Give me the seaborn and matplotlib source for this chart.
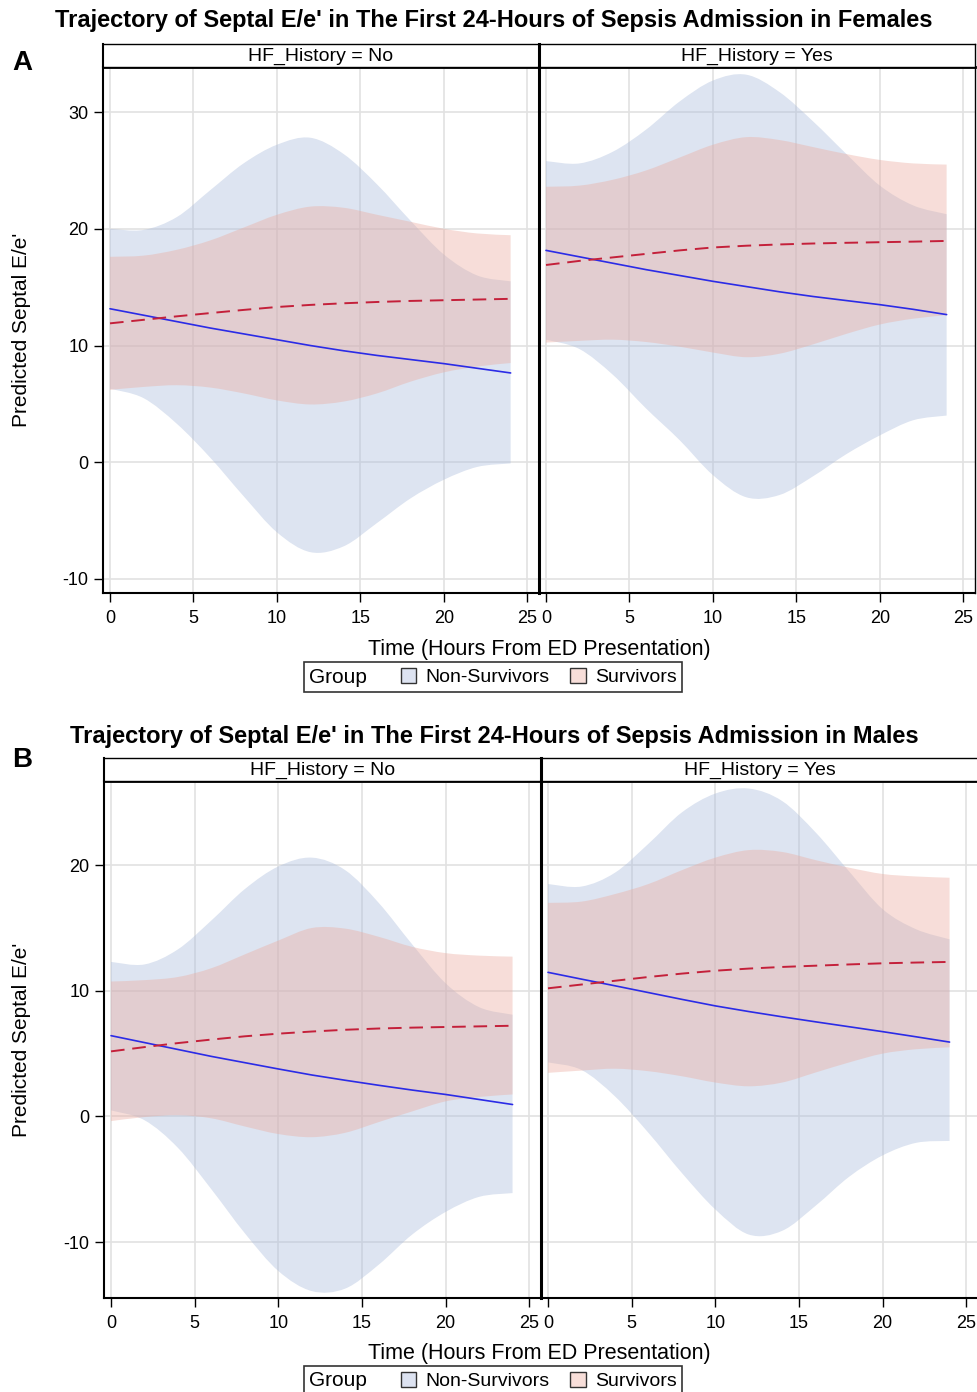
import numpy as np
import pandas as pd
import matplotlib
matplotlib.use("Agg")
import matplotlib.pyplot as plt
from matplotlib.patches import Patch, PathPatch
from matplotlib.path import Path
from matplotlib.offsetbox import HPacker
import seaborn as sns

sns.set_style("white")
plt.rcParams['font.family'] = ['Liberation Sans', 'DejaVu Sans']
plt.rcParams['axes.unicode_minus'] = False
plt.rcParams['text.color'] = 'black'
plt.rcParams['axes.labelcolor'] = 'black'
plt.rcParams['xtick.color'] = 'black'
plt.rcParams['ytick.color'] = 'black'
plt.rcParams['legend.labelcolor'] = 'black'

# ---------------- data ----------------
time_h = [0, 2, 4, 6, 8, 10, 12, 14, 16, 18, 20, 22, 24]
groups = ["Non-Survivors", "Survivors"]
hf_levels = ["No", "Yes"]
x_ticks = [0, 5, 10, 15, 20, 25]
y_ticks_f = [-10, 0, 10, 20, 30]
y_ticks_m = [-10, 0, 10, 20]

# Females, HF_History = No
f_no_ns_mean = [13.15, 12.6, 12.05, 11.5, 11.0, 10.5, 10.0, 9.55, 9.15, 8.8, 8.45, 8.05, 7.65]
f_no_ns_lo = [6.3, 5.5, 3.3, 0.4, -2.9, -6.0, -7.7, -7.2, -5.2, -3.1, -1.5, -0.4, -0.1]
f_no_ns_hi = [20.0, 19.9, 21.0, 23.3, 25.6, 27.2, 27.8, 26.4, 23.8, 20.7, 17.8, 16.0, 15.5]
f_no_s_mean = [11.9, 12.2, 12.5, 12.78, 13.05, 13.3, 13.48, 13.62, 13.73, 13.82, 13.88, 13.94, 14.0]
f_no_s_lo = [6.2, 6.45, 6.6, 6.4, 5.9, 5.3, 4.95, 5.2, 5.9, 6.9, 7.7, 8.2, 8.5]
f_no_s_hi = [17.6, 17.7, 18.2, 19.0, 20.1, 21.2, 21.9, 21.8, 21.2, 20.6, 20.0, 19.6, 19.45]

# Females, HF_History = Yes
f_yes_ns_mean = [18.15, 17.6, 17.05, 16.5, 16.0, 15.5, 15.05, 14.6, 14.2, 13.85, 13.5, 13.1, 12.65]
f_yes_ns_lo = [10.5, 9.7, 7.5, 4.6, 1.9, -1.1, -3.0, -2.8, -1.2, 0.7, 2.3, 3.6, 4.0]
f_yes_ns_hi = [25.8, 25.6, 26.6, 28.5, 30.9, 32.7, 33.2, 31.7, 29.2, 26.4, 23.7, 22.0, 21.25]
f_yes_s_mean = [16.9, 17.25, 17.55, 17.85, 18.15, 18.4, 18.55, 18.66, 18.74, 18.8, 18.85, 18.9, 18.96]
f_yes_s_lo = [10.25, 10.4, 10.5, 10.3, 9.9, 9.4, 9.0, 9.3, 10.1, 11.0, 11.8, 12.3, 12.6]
f_yes_s_hi = [23.6, 23.7, 24.2, 25.0, 26.1, 27.2, 27.85, 27.6, 27.0, 26.4, 25.9, 25.6, 25.5]

# Males, HF_History = No
m_no_ns_mean = [6.43, 5.88, 5.33, 4.78, 4.28, 3.78, 3.3, 2.88, 2.48, 2.1, 1.75, 1.35, 0.95]
m_no_ns_lo = [0.48, -0.3, -2.5, -5.8, -9.3, -12.3, -13.9, -13.7, -11.8, -9.4, -7.6, -6.4, -6.1]
m_no_ns_hi = [12.3, 12.1, 13.3, 15.6, 18.1, 19.9, 20.6, 19.6, 17.0, 13.7, 10.6, 8.7, 8.1]
m_no_s_mean = [5.18, 5.52, 5.84, 6.12, 6.38, 6.59, 6.76, 6.9, 7.0, 7.07, 7.12, 7.17, 7.22]
m_no_s_lo = [-0.37, -0.05, 0.1, -0.15, -0.8, -1.4, -1.65, -1.3, -0.45, 0.4, 1.2, 1.55, 1.75]
m_no_s_hi = [10.74, 10.85, 11.1, 11.8, 12.9, 14.0, 15.0, 14.95, 14.3, 13.5, 13.0, 12.8, 12.72]

# Males, HF_History = Yes
m_yes_ns_mean = [11.47, 10.93, 10.4, 9.86, 9.32, 8.8, 8.35, 7.93, 7.53, 7.14, 6.75, 6.34, 5.92]
m_yes_ns_lo = [4.3, 3.7, 1.6, -1.3, -4.5, -7.4, -9.4, -9.1, -7.1, -4.8, -3.1, -2.1, -1.95]
m_yes_ns_hi = [18.5, 18.3, 19.4, 21.7, 24.2, 25.7, 26.1, 25.1, 22.6, 19.5, 16.5, 14.9, 14.1]
m_yes_s_mean = [10.2, 10.5, 10.8, 11.1, 11.37, 11.6, 11.77, 11.9, 12.0, 12.1, 12.19, 12.25, 12.3]
m_yes_s_lo = [3.47, 3.65, 3.8, 3.6, 3.2, 2.7, 2.4, 2.7, 3.5, 4.3, 5.0, 5.35, 5.5]
m_yes_s_hi = [17.0, 17.1, 17.7, 18.5, 19.6, 20.6, 21.2, 21.05, 20.4, 19.8, 19.3, 19.1, 19.0]

titles = {
    "Females": "Trajectory of Septal E/e' in The First 24-Hours of Sepsis Admission in Females",
    "Males": "Trajectory of Septal E/e' in The First 24-Hours of Sepsis Admission in Males",
}

series = {
    ("Females", "No"): [(f_no_ns_mean, f_no_ns_lo, f_no_ns_hi), (f_no_s_mean, f_no_s_lo, f_no_s_hi)],
    ("Females", "Yes"): [(f_yes_ns_mean, f_yes_ns_lo, f_yes_ns_hi), (f_yes_s_mean, f_yes_s_lo, f_yes_s_hi)],
    ("Males", "No"): [(m_no_ns_mean, m_no_ns_lo, m_no_ns_hi), (m_no_s_mean, m_no_s_lo, m_no_s_hi)],
    ("Males", "Yes"): [(m_yes_ns_mean, m_yes_ns_lo, m_yes_ns_hi), (m_yes_s_mean, m_yes_s_lo, m_yes_s_hi)],
}

rows = []
for (sex, hf), grp_list in series.items():
    for g, (mn, lo, hi) in zip(groups, grp_list):
        for t, a, b, c in zip(time_h, mn, lo, hi):
            rows.append(dict(Sex=sex, HF=hf, Group=g, Time=t, Mean=a, Lower=b, Upper=c))
df = pd.DataFrame(rows)

# ---------------- style ----------------
band_col = {"Non-Survivors": "#aabcdc", "Survivors": "#ebaca0"}
band_alpha = 0.4
line_col = {"Non-Survivors": "#2b2be6", "Survivors": "#c4203a"}
dashes = {"Non-Survivors": "", "Survivors": (7, 4)}
grid_col = "#e2e2e2"

W, H = 977, 1392
fig = plt.figure(figsize=(W / 100, H / 100), dpi=100)


def rect(x0, y0, x1, y1):
    return [x0 / W, 1 - y1 / H, (x1 - x0) / W, (y1 - y0) / H]


def bezier_segments(xs, ys):
    """Smooth (Catmull-Rom style) cubic Bezier rendering through the given points."""
    pts = np.column_stack([xs, ys]).astype(float)
    n = len(pts)
    verts, codes = [], []
    for i in range(n - 1):
        p0 = pts[max(i - 1, 0)]
        p1 = pts[i]
        p2 = pts[i + 1]
        p3 = pts[min(i + 2, n - 1)]
        c1 = p1 + (p2 - p0) / 6.0
        c2 = p2 - (p3 - p1) / 6.0
        verts += [tuple(c1), tuple(c2), tuple(p2)]
        codes += [Path.CURVE4] * 3
    return verts, codes


def band_patch(ax, xs, lo, hi, **kw):
    up_v, up_c = bezier_segments(xs, hi)
    lo_v, lo_c = bezier_segments(xs[::-1], lo[::-1])
    verts = [(xs[0], hi[0])] + up_v + [(xs[-1], lo[-1])] + lo_v + [(xs[0], hi[0])]
    codes = [Path.MOVETO] + up_c + [Path.LINETO] + lo_c + [Path.CLOSEPOLY]
    patch = PathPatch(Path(verts, codes), transform=ax.transData, **kw)
    ax.add_patch(patch)


panels = [
    dict(sex="Females", letter="A", title_y=21, letter_y=63,
         hdr=(103, 44, 67), plot_bottom=593, split=539, right=975,
         ylim=(-11.2, 33.86), yticks=y_ticks_f, xlabel_y=649, leg_y=677, left=103),
    dict(sex="Males", letter="B", title_y=736, letter_y=760,
         hdr=(104, 758, 781), plot_bottom=1298, split=541, right=978,
         ylim=(-14.45, 26.7), yticks=y_ticks_m, xlabel_y=1354, leg_y=1381, left=104),
]

for p in panels:
    left = p["left"]
    x_top_hdr, y_hdr0, y_hdr1 = p["hdr"]
    for i, hf in enumerate(hf_levels):
        x0 = left if i == 0 else p["split"]
        x1 = p["split"] if i == 0 else p["right"]
        ax = fig.add_axes(rect(x0, y_hdr1, x1, p["plot_bottom"]))
        sub = df[(df.Sex == p["sex"]) & (df.HF == hf)]
        for g in groups:
            s = sub[sub.Group == g]
            band_patch(ax, s.Time.to_numpy(), s.Lower.to_numpy(), s.Upper.to_numpy(),
                       facecolor=band_col[g], alpha=band_alpha, linewidth=0, zorder=2)
        sns.lineplot(data=sub, x="Time", y="Mean", hue="Group", style="Group",
                     palette=line_col, dashes=dashes, ax=ax, legend=False,
                     estimator=None, sort=True, zorder=3)
        for ln, g in zip(ax.lines, groups):
            ln.set_linewidth(1.2 if g == "Non-Survivors" else 1.4)
        ax.set_xlim(-0.42, 25.7)
        ax.set_ylim(*p["ylim"])
        ax.set_xticks(x_ticks)
        ax.set_yticks(p["yticks"])
        ax.grid(True, color=grid_col, linewidth=1.2, zorder=1)
        ax.set_axisbelow(True)
        ax.set_xlabel("")
        ax.set_ylabel("")
        ax.tick_params(axis="x", direction="out", length=6.5, width=1.0,
                       pad=6, labelsize=13, bottom=True, colors="black")
        if i == 0:
            ax.tick_params(axis="y", direction="out", length=6.5, width=1.0,
                           pad=4, labelsize=13, left=True, colors="black")
            ax.spines["right"].set_visible(False)
            ax.spines["left"].set_linewidth(1.5)
        else:
            ax.tick_params(axis="y", left=False, labelleft=False)
            ax.spines["left"].set_linewidth(2.2)
            ax.spines["right"].set_linewidth(1.0)
        ax.spines["top"].set_linewidth(2.0)
        ax.spines["bottom"].set_linewidth(1.5)
        for sp in ax.spines.values():
            sp.set_color("black")
        # facet header
        hx = fig.add_axes(rect(x0, y_hdr0, x1, y_hdr1))
        hx.set_xticks([])
        hx.set_yticks([])
        for sp in hx.spines.values():
            sp.set_color("black")
            sp.set_linewidth(1.0)
        hx.spines["left"].set_linewidth(1.5 if i == 0 else 2.2)
        hx.text(0.5, 0.45, f"HF_History = {hf}", ha="center", va="center",
                fontsize=14, color="black", transform=hx.transAxes)
        hx.set_facecolor("white")

    # panel title, letter, axis labels, legend
    fig.text(494 / W, 1 - p["title_y"] / H, titles[p["sex"]], ha="center",
             va="center", fontsize=17, fontweight="bold", color="black")
    fig.text(22 / W, 1 - p["letter_y"] / H, p["letter"], ha="center",
             va="center", fontsize=20, fontweight="bold", color="black")
    ymid = (y_hdr1 + p["plot_bottom"]) / 2
    fig.text(22 / W, 1 - ymid / H, "Predicted Septal E/e'", rotation=90,
             ha="center", va="center", fontsize=15, color="black")
    fig.text(539 / W, 1 - p["xlabel_y"] / H, "Time (Hours From ED Presentation)",
             ha="center", va="center", fontsize=15.5, color="black")
    handles = [Patch(facecolor="#dde3f1", edgecolor="#333333", linewidth=1.0),
               Patch(facecolor="#f7ded9", edgecolor="#333333", linewidth=1.0)]
    leg = fig.legend(handles, ["Non-Survivors", "Survivors"], ncol=2,
                     title="Group", title_fontsize=15,
                     loc="center", bbox_to_anchor=(493 / W, 1 - p["leg_y"] / H),
                     frameon=True, fancybox=False, edgecolor="black",
                     fontsize=14, handlelength=0.8, handleheight=0.8,
                     handletextpad=0.45, columnspacing=1.1, borderpad=0.3,
                     borderaxespad=0)
    try:
        lb = leg._legend_box
        lb.__class__ = HPacker
        lb.align = "center"
        lb.sep = 24
    except Exception:
        pass
    leg.get_title().set_color("black")
    leg.get_frame().set_linewidth(1.2)

fig.savefig("out.png", dpi=100)
